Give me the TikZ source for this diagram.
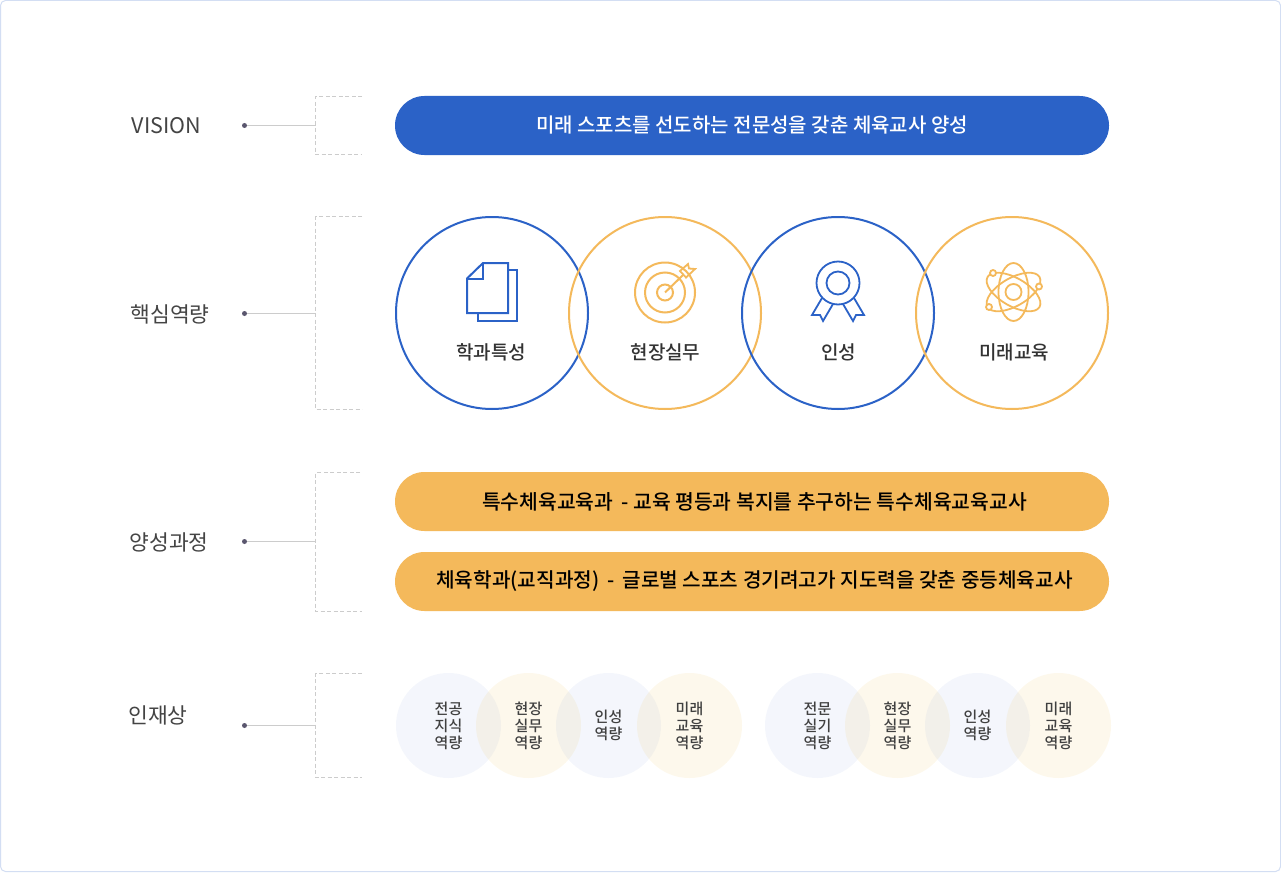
\documentclass[tikz,border=0pt]{standalone}
\usepackage{fontspec}
\setmainfont{Noto Sans CJK KR}
\newfontfamily\krmed{Noto Sans CJK KR Medium}
\usetikzlibrary{arrows.meta,positioning,shapes.misc,calc}
\definecolor{pillblue}{HTML}{2B62C7}
\definecolor{pillgold}{HTML}{F4B95B}
\definecolor{softgold}{HTML}{F2C24A}
\definecolor{framecol}{HTML}{D3DEF3}
\definecolor{dashcol}{HTML}{CCCCCC}
\definecolor{dotcol}{HTML}{5A566E}
\definecolor{labelcol}{HTML}{444444}
\begin{document}
\begin{tikzpicture}[x=1pt, y=-1pt,
  head/.style={inner sep=0pt, text=labelcol, font=\fontsize{21.5}{25}\selectfont},
  dotnode/.style={circle, fill=dotcol, inner sep=0pt, minimum size=5pt},
  link/.style={draw=dashcol, line width=0.8pt},
  brace/.style={draw=dashcol, line width=0.8pt, dash pattern=on 4pt off 2.5pt},
  pill/.style={rounded rectangle, minimum width=714pt, minimum height=59pt,
    inner sep=0pt, outer sep=0pt},
  ring/.style={circle, draw, line width=2pt, minimum size=192pt, inner sep=0pt},
  ringtext/.style={inner sep=0pt, text=black!80, font=\krmed\fontsize{19}{22}\selectfont},
  blob/.style={circle, minimum size=105pt, inner sep=0pt, fill opacity=#1},
  blobtext/.style={inner sep=0pt, align=center, text=black!75,
    font=\krmed\fontsize{15}{17}\selectfont},
  icon/.style={line width=2pt, line join=miter},
]
  \useasboundingbox (0,0) rectangle (1281,872);
  \fill[white] (0,0) rectangle (1281,872);
  \draw[framecol, line width=1pt, rounded corners=5pt] (0.5,0.5) rectangle (1280.5,871.5);

  % row heads
  \node[head] (h1) at (166.5,126) {VISION};
  \node[head] (h2) at (170,314) {핵심역량};
  \node[head] (h3) at (169,542) {양성과정};
  \node[head] (h4) at (158,715) {인재상};

  \node[dotnode] (d1) at (244.5,125.5) {};
  \node[dotnode] (d2) at (244.5,313.5) {};
  \node[dotnode] (d3) at (244.5,541.5) {};
  \node[dotnode] (d4) at (244.5,725.5) {};

  \coordinate (b1) at (315.5,125.5);
  \coordinate (b2) at (315.5,313.5);
  \coordinate (b3) at (315.5,541.5);
  \coordinate (b4) at (315.5,725.5);

  \draw[link] (d1) -- (b1);
  \draw[link] (d2) -- (b2);
  \draw[link] (d3) -- (b3);
  \draw[link] (d4) -- (b4);

  % dashed brackets
  \draw[brace] (362,96.5) -| (315.5,154.5) -- (362,154.5);
  \draw[brace] (362,216.5) -| (315.5,409.5) -- (362,409.5);
  \draw[brace] (360,472.5) -| (315.5,611.5) -- (362,611.5);
  \draw[brace] (362,673.5) -| (315.5,777.5) -- (362,777.5);

  % bars
  \node[pill, fill=pillblue, text=white, font=\krmed\fontsize{20}{24}\selectfont] (vision) at (752,125.5)
    {\raisebox{-1pt}{미래 스포츠를 선도하는 전문성을 갖춘 체육교사 양성}};
  \node[pill, fill=pillgold, text=black, font=\krmed\fontsize{20.4}{24}\selectfont] (course1) at (752,501.5)
    {\hspace*{5pt}\raisebox{-1pt}{특수체육교육과\, - 교육 평등과 복지를 추구하는 특수체육교육교사}};
  \node[pill, fill=pillgold, text=black, font=\krmed\fontsize{20.2}{24}\selectfont, below=21pt of course1] (course2)
    {\hspace*{5pt}\raisebox{-1pt}{체육학과(교직과정)\, - \,글로벌 스포츠 경기려고가 지도력을 갖춘 중등체육교사}};

  % core rings
  \node[ring, draw=pillblue] (r1) at (492,313) {};
  \node[ring, draw=pillgold] (r2) at (665,313) {};
  \node[ring, draw=pillblue] (r3) at (838,313) {};
  \node[ring, draw=pillgold] (r4) at (1012,313) {};
  \node[ringtext] (t1) at (491,352.5) {학과특성};
  \node[ringtext] (t2) at (665.5,352.5) {현장실무};
  \node[ringtext] (t3) at (838.5,352.5) {인성};
  \node[ringtext] (t4) at (1014,352.5) {미래교육};

  % icons
  \draw[icon, pillblue] (508,270) -- (517,270) -- (517,321) -- (478,321) -- (478,313);
  \draw[icon, pillblue] (467,278.5) -- (483,263) -- (508,263) -- (508,313) -- (467,313) -- cycle;
  \draw[icon, pillblue, line width=1.4pt] (467,279) -- (483,279) -- (483,263);

  \draw[icon, pillgold] (665,292.5) circle (30) circle (20) circle (8);
  \draw[icon, pillgold] (665,292.5) -- (683,275);
  \draw[icon, pillgold, line width=1.8pt] (680,271) -- (688,264) -- (689,268.5) -- (695,269)
    -- (686,277.5) -- cycle;

  \draw[icon, pillblue, line width=1.8pt] (838,283) circle (21.5) circle (11.5);
  \draw[icon, pillblue, line width=1.8pt] (822,298) -- (812,315) -- (820,315) -- (823,321) -- (833,304);
  \draw[icon, pillblue, line width=1.8pt] (854,298) -- (864,315) -- (856,315) -- (853,321) -- (843,304);

  \begin{scope}[icon, pillgold, line width=1.8pt]
    \draw (1013.5,292) circle (8);
    \draw (1013.5,292) ellipse [x radius=15, y radius=29];
    \draw[rotate around={30:(1013.5,292)}] (1013.5,292) ellipse [x radius=30, y radius=14];
    \draw[rotate around={-30:(1013.5,292)}] (1013.5,292) ellipse [x radius=30, y radius=14];
    \filldraw[fill=white] (993,273) circle (3);
    \filldraw[fill=white] (1039,286.5) circle (3);
    \filldraw[fill=white] (989,307) circle (3);
  \end{scope}

  % bottom circles
  \node[blob=0.05, fill=pillblue] (a1) at (448.5,725.5) {};
  \node[blob=0.10, fill=softgold] (a2) at (528.5,725.5) {};
  \node[blob=0.05, fill=pillblue] (a3) at (608.5,725.5) {};
  \node[blob=0.10, fill=softgold] (a4) at (689.5,725.5) {};
  \node[blob=0.05, fill=pillblue] (a5) at (817.5,725.5) {};
  \node[blob=0.10, fill=softgold] (a6) at (897.5,725.5) {};
  \node[blob=0.05, fill=pillblue] (a7) at (977.5,725.5) {};
  \node[blob=0.10, fill=softgold] (a8) at (1058.5,725.5) {};
  \node[blobtext] at (a1) {전공\\지식\\역량};
  \node[blobtext] at (a2) {현장\\실무\\역량};
  \node[blobtext] at (a3) {인성\\역량};
  \node[blobtext] at (a4) {미래\\교육\\역량};
  \node[blobtext] at (a5) {전문\\실기\\역량};
  \node[blobtext] at (a6) {현장\\실무\\역량};
  \node[blobtext] at (a7) {인성\\역량};
  \node[blobtext] at (a8) {미래\\교육\\역량};
\end{tikzpicture}
\end{document}
